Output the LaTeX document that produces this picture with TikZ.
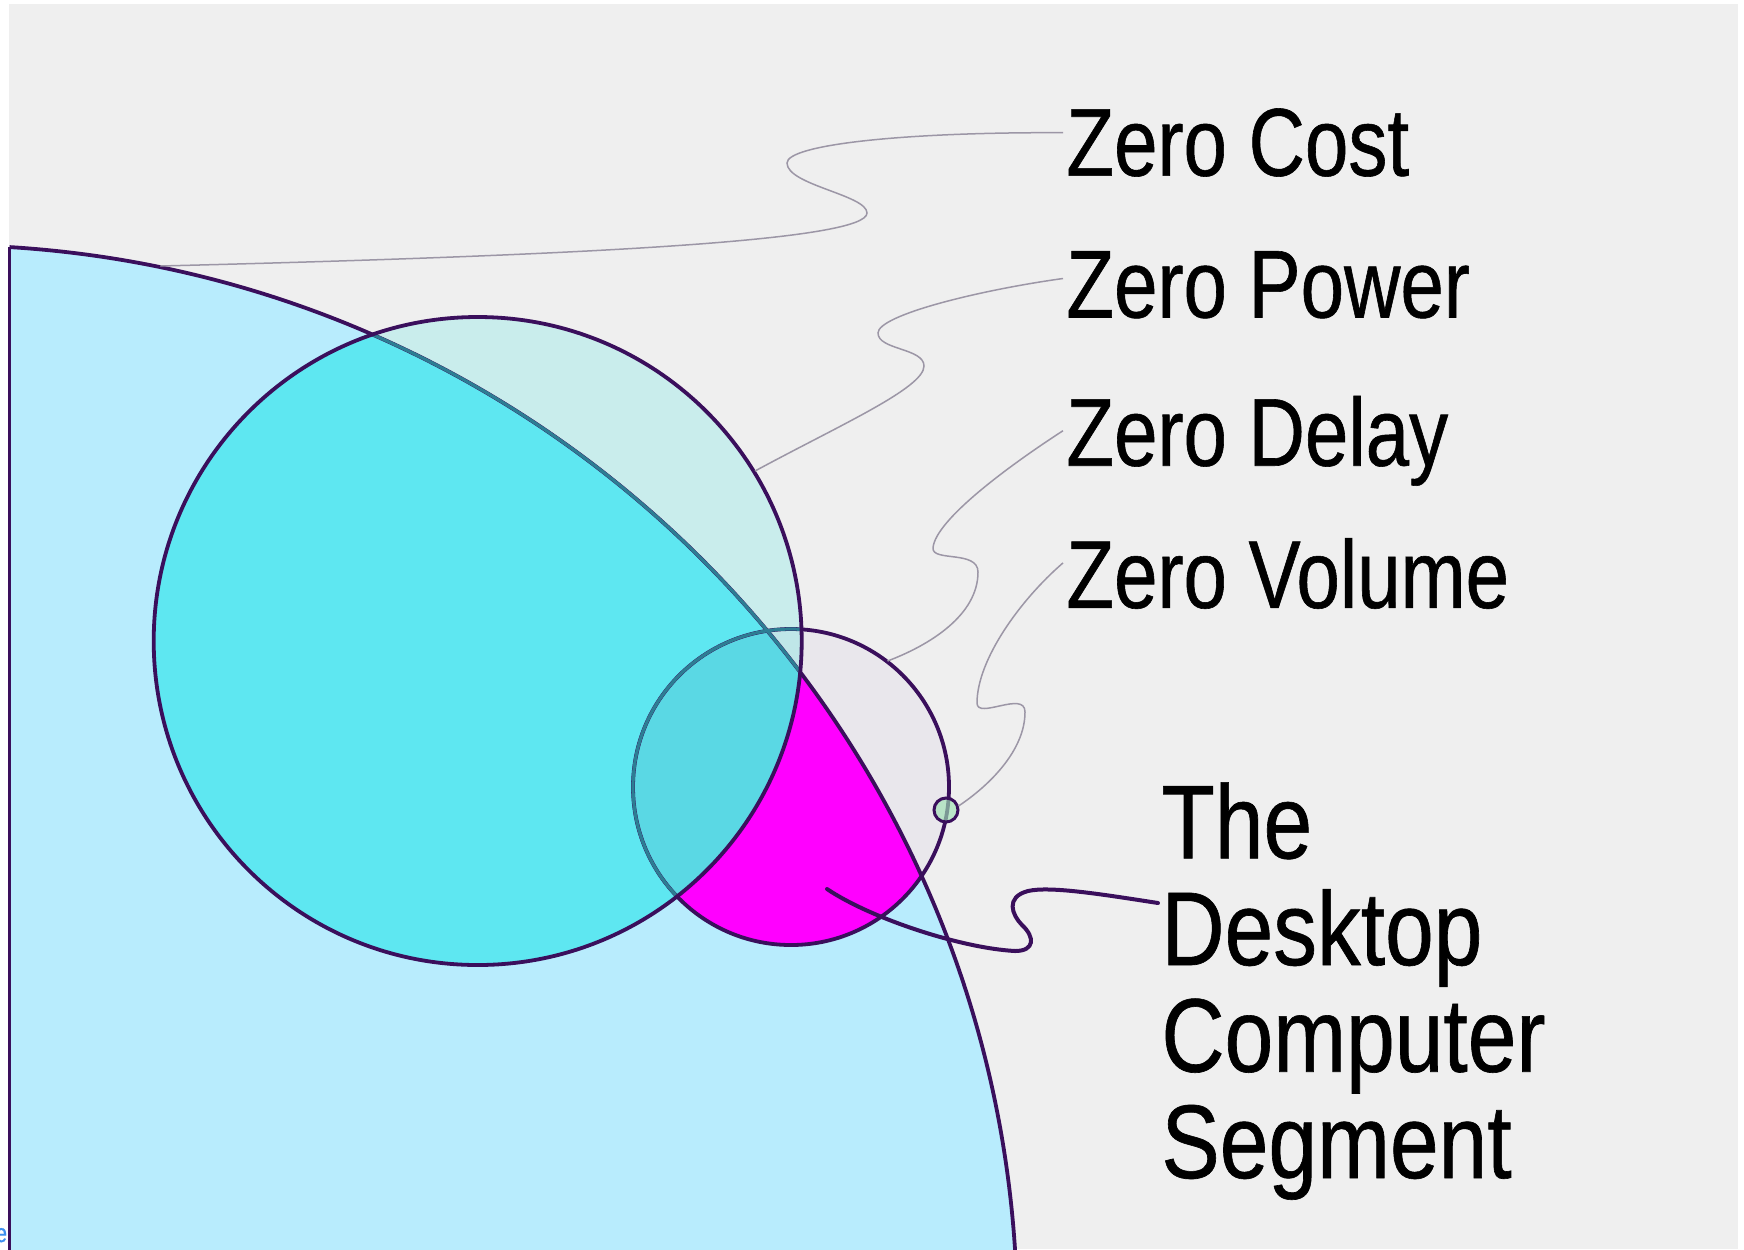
\documentclass[tikz,border=0pt]{standalone}
\usepackage{fontspec}
\setmainfont{Liberation Sans}[FakeStretch=0.81, FakeBold=0.6]
\newfontfamily\segfont{Liberation Sans}[FakeStretch=0.835, FakeBold=0.6]

\definecolor{paper}{HTML}{EFEFEF}
\definecolor{segblue}{HTML}{B8ECFD}
\definecolor{cyanin}{HTML}{5EE7F1}
\definecolor{cyanout}{HTML}{C9EDEC}
\definecolor{mgray}{HTML}{E9E7EC}
\definecolor{mcyanin}{HTML}{5AD8E4}
\definecolor{mcyanout}{HTML}{BFE6E8}
\definecolor{hotpink}{HTML}{FF00FF}
\definecolor{rimdark}{HTML}{3A0F5C}
\definecolor{rimteal}{HTML}{2D7D93}
\definecolor{leadgray}{HTML}{9C96A6}
\definecolor{dotgreen}{HTML}{9EE2B4}
\definecolor{linkblue}{HTML}{3D8FF0}

\tikzset{
  rim/.style={draw=rimdark, line width=1.9pt},
  rimin/.style={draw=rimteal, line width=1.6pt},
  thinlead/.style={draw=leadgray, line width=0.75pt},
  thicklead/.style={draw=rimdark, line width=2pt, line cap=round},
  zlabel/.style={anchor=base west, inner sep=0pt, text=black,
    font=\fontsize{48.2pt}{50pt}\selectfont},
  seglabel/.style={anchor=base west, inner sep=0pt, text=black,
    font=\segfont\fontsize{52.4pt}{54pt}\selectfont},
}

\def\rBig{1075}
\def\rCy{324}
\def\rMid{158}

\begin{document}
\begin{tikzpicture}[x=0.5pt,y=-0.5pt]
\useasboundingbox (0,0) rectangle (1744,1249);
\fill[white] (0,0) rectangle (1744,1249);
\fill[paper] (9,4) rectangle (1738,1249);

% centres of the three discs and the small marker
\coordinate (bc) at (-57.7,1320);
\coordinate (cc) at (477.7,641);
\coordinate (mc) at (791,787);
\coordinate (tc) at (946,810);

% the large segment
\begin{scope}
  \clip (9.5,0) rectangle (1744,1249);
  \fill[segblue] (bc) circle[radius=\rBig];
\end{scope}

% the large cyan disc
\begin{scope}
  \clip (cc) circle[radius=\rCy];
  \fill[cyanout] (0,0) rectangle (1744,1249);
  \clip (bc) circle[radius=\rBig];
  \fill[cyanin] (0,0) rectangle (1744,1249);
\end{scope}

% the middle disc and its magenta part
\begin{scope}
  \clip (mc) circle[radius=\rMid];
  \fill[mgray] (0,0) rectangle (1744,1249);
  \begin{scope}
    \clip (bc) circle[radius=\rBig];
    \fill[hotpink] (0,0) rectangle (1744,1249);
  \end{scope}
  \begin{scope}
    \clip (cc) circle[radius=\rCy];
    \fill[mcyanout] (0,0) rectangle (1744,1249);
    \clip (bc) circle[radius=\rBig];
    \fill[mcyanin] (0,0) rectangle (1744,1249);
  \end{scope}
\end{scope}

% outlines
\coordinate (bl) at (9.5,247);
\coordinate (bb) at (9.5,1252);
\draw[rim] (bb) -- (bl);
\begin{scope}
  \clip (9.5,0) rectangle (1744,1249);
  \draw[rim] (bc) circle[radius=\rBig];
\end{scope}
\draw[rim] (mc) circle[radius=\rMid];
\begin{scope}
  \clip (cc) circle[radius=\rCy];
  \draw[rimin] (bc) circle[radius=\rBig];
  \draw[rimin] (mc) circle[radius=\rMid];
\end{scope}
\draw[rim] (cc) circle[radius=\rCy];

% small marker on the middle rim
\fill[dotgreen, opacity=0.65] (tc) circle[radius=12];
\draw[draw=rimdark, line width=1.5pt] (tc) circle[radius=12];

% leader end points on the shapes
\coordinate (pCost) at (160.3,266);
\coordinate (pPower) at (755,471);
\coordinate (pDelay) at (887.5,661);
\coordinate (pVol) at (958.5,806);
\coordinate (pSeg) at (827,889);

% labels
\node[zlabel] (zc) at (1066,175.7) {Zero Cost};
\node[zlabel] (zp) at (1066,317.5) {Zero Power};
\node[zlabel] (zd) at (1066,465.7) {Zero Delay};
\node[zlabel] (zv) at (1066,607.9) {Zero Volume};
\node[seglabel] (s1) at (1161,858.3) {The};
\node[seglabel] (s2) at (1161,965) {Desktop};
\node[seglabel] (s3) at (1161,1071.7) {Computer};
\node[seglabel] (s4) at (1161,1178) {Segment};
\node[anchor=base east, inner sep=0pt, text=linkblue,
      font=\fontsize{13pt}{14pt}\selectfont] (edge) at (7.5,1242) {e};

% leaders
\draw[thinlead] ([shift={(-3,-43)}]zc.base west)
  .. controls (900,132) and (787,145) .. (787,163)
  .. controls (787,185) and (867,195) .. (867,213)
  .. controls (867,240) and (600,255) .. (pCost);
\draw[thinlead] ([shift={(-3,-39)}]zp.base west)
  .. controls (980,290) and (878,315) .. (878,333)
  .. controls (878,350) and (924,348) .. (924,366)
  .. controls (924,388) and (840,425) .. (pPower);
\draw[thinlead] ([shift={(-3,-35)}]zd.base west)
  .. controls (1010,465) and (935,520) .. (933,548)
  .. controls (932,562) and (978,550) .. (978,572)
  .. controls (978,615) and (930,645) .. (pDelay);
\draw[thinlead] ([shift={(-3,-45)}]zv.base west)
  .. controls (1020,600) and (977,660) .. (977,703)
  .. controls (977,720) and (1025,690) .. (1025,712)
  .. controls (1025,750) and (990,785) .. (pVol);
\draw[thicklead] ([shift={(-3,-62)}]s2.base west)
  .. controls (1100,894) and (1050,886) .. (1028,891)
  .. controls (1005,897) and (1012,915) .. (1022,925)
  .. controls (1035,937) and (1035,951) .. (1015,951)
  .. controls (960,948) and (870,918) .. (pSeg);
\end{tikzpicture}
\end{document}
